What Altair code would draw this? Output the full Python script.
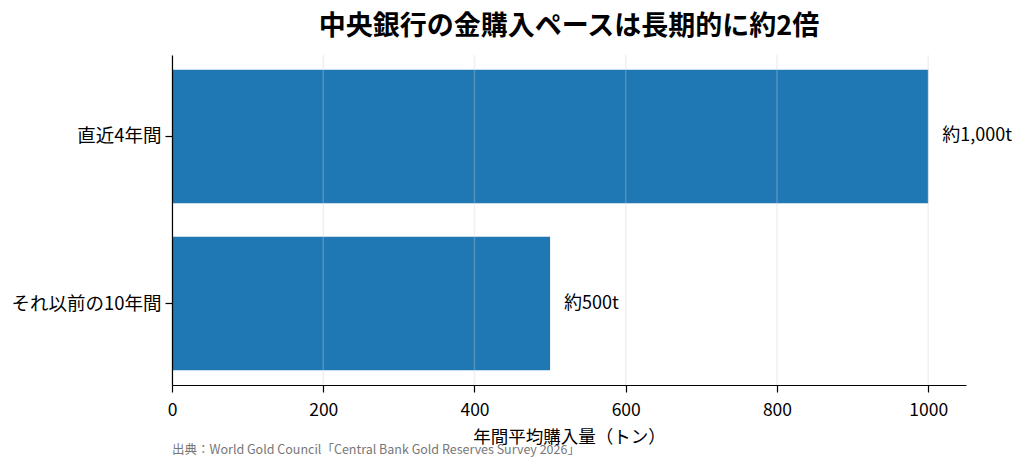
import altair as alt
import pandas as pd

categories = ["直近4年間", "それ以前の10年間"]
values = [1000, 500]
labels = ["約1,000t", "約500t"]
ticks = [0, 200, 400, 600, 800, 1000]
title_text = "中央銀行の金購入ペースは長期的に約2倍"
x_title = "年間平均購入量（トン）"
source_text = "出典：World Gold Council「Central Bank Gold Reserves Survey 2026」"

FONT = "Noto Sans CJK JP"

df = pd.DataFrame({"cat": categories, "val": values, "label": labels})
grid_df = pd.DataFrame({"t": ticks})
src_df = pd.DataFrame({"s": [source_text]})

yscale = alt.Scale(paddingInner=0.2, paddingOuter=0.088, align=0.5)
xscale = alt.Scale(domain=[0, 1050], nice=False)

xaxis = alt.Axis(values=ticks, title=x_title, grid=False, domainColor="#000",
                 tickColor="#000", tickSize=7, labelFontSize=17.5, titleFontSize=17.5,
                 labelColor="#000", titleColor="#000", labelPadding=9,
                 titlePadding=10, titleFontWeight="normal", labelFont=FONT,
                 titleFont=FONT, domainWidth=1.2, tickWidth=1.2, format="d",
                 labelFlush=False, zindex=1)

bars = alt.Chart(df).mark_bar(color="#1f77b4").encode(
    x=alt.X("val:Q", scale=xscale, axis=xaxis),
    y=alt.Y("cat:N", sort=categories, scale=yscale, title=None,
            axis=alt.Axis(domainColor="#000", tickColor="#000", tickSize=7,
                          labelFontSize=18.5, labelColor="#000", labelPadding=4,
                          labelFont=FONT, domainWidth=1.2, tickWidth=1.2, zindex=1)),
)

grid = alt.Chart(grid_df).mark_rule(color="#cccccc", opacity=0.3, strokeWidth=1.5).encode(
    x=alt.X("t:Q", scale=xscale, axis=xaxis)
)

text = alt.Chart(df).mark_text(align="left", baseline="middle", dx=14, fontSize=18,
                               font=FONT, color="#000").encode(
    x=alt.X("val:Q", scale=xscale, axis=xaxis),
    y=alt.Y("cat:N", sort=categories, scale=yscale),
    text="label:N",
)

src = alt.Chart(src_df).mark_text(align="left", baseline="middle", fontSize=12.5,
                                  font=FONT, color="#777777").encode(
    x=alt.value(0), y=alt.value(395), text="s:N"
)

chart = alt.layer(bars, grid, text, src).properties(
    width=794, height=330,
    title=alt.TitleParams(title_text, fontSize=27, font=FONT, fontWeight="bold",
                          anchor="middle", color="#000", offset=13),
    autosize=alt.AutoSizeParams(type="none"),
    padding={"left": 164, "top": 47, "right": 50, "bottom": 76},
).configure(background="white").configure_view(strokeWidth=0, stroke="transparent")

chart.save("out.html", embed_options={"renderer": "svg", "actions": False})
